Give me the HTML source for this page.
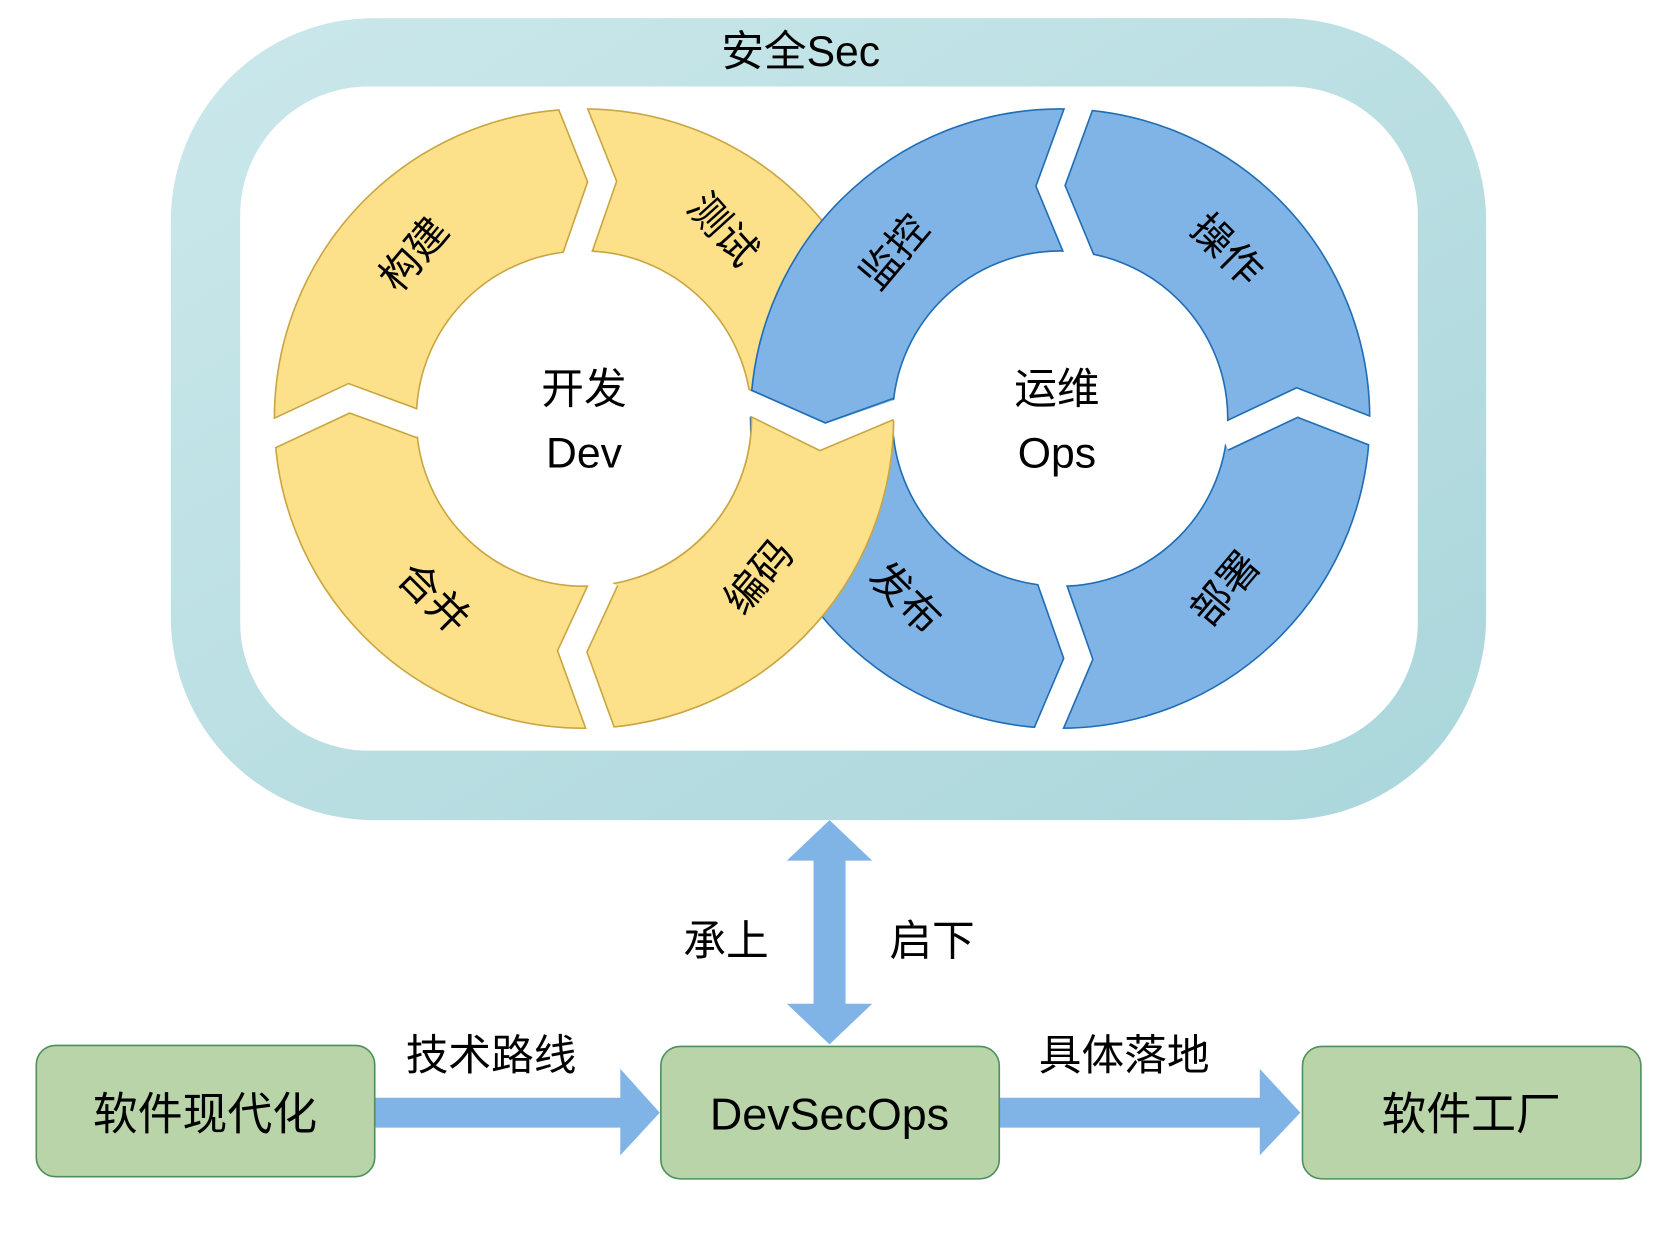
<!DOCTYPE html>
<html><head><meta charset="utf-8"><style>
html,body{margin:0;padding:0;background:#fff;width:1674px;height:1244px;overflow:hidden}
svg{display:block}
text{font-family:"Liberation Sans","Noto Sans CJK SC",sans-serif;fill:#000}
</style></head><body>
<svg width="1674" height="1244" viewBox="0 0 1568 1165" preserveAspectRatio="none" xmlns="http://www.w3.org/2000/svg">
<defs>
<linearGradient id="sec" x1="0" y1="0" x2="1" y2="1">
<stop offset="0" stop-color="#cbe8eb"/><stop offset="1" stop-color="#aad6db"/>
</linearGradient>
<clipPath id="cy"><path clip-rule="evenodd" d="M257,392a290,290 0 1,0 580,0a290,290 0 1,0 -580,0ZM390,392a157,157 0 1,0 314,0a157,157 0 1,0 -314,0Z"/></clipPath>
<clipPath id="cyw"><path clip-rule="evenodd" d="M254,392a293,293 0 1,0 586,0a293,293 0 1,0 -586,0ZM393,392a154,154 0 1,0 308,0a154,154 0 1,0 -308,0Z"/></clipPath>
<clipPath id="cb"><path clip-rule="evenodd" d="M703,392a290,290 0 1,0 580,0a290,290 0 1,0 -580,0ZM836,392a157,157 0 1,0 314,0a157,157 0 1,0 -314,0Z"/></clipPath>
<clipPath id="cbw"><path clip-rule="evenodd" d="M700,392a293,293 0 1,0 586,0a293,293 0 1,0 -586,0ZM839,392a154,154 0 1,0 308,0a154,154 0 1,0 -308,0Z"/></clipPath>
<clipPath id="cq"><polygon points="552,392 700,392 703,389 768,421 840,391 900,391 900,700 552,700"/></clipPath>
</defs>
<rect x="160" y="17" width="1232" height="751" rx="190" fill="url(#sec)"/>
<rect x="225" y="81" width="1103" height="622" rx="120" fill="#fff"/>
<text x="750" y="62" font-size="40" text-anchor="middle">安全Sec</text>

<path fill-rule="evenodd" d="M257,392a290,290 0 1,0 580,0a290,290 0 1,0 -580,0ZM390,392a157,157 0 1,0 314,0a157,157 0 1,0 -314,0Z" fill="#fde08a" stroke="#c9a641" stroke-width="1.5"/>
<path fill-rule="evenodd" d="M703,392a290,290 0 1,0 580,0a290,290 0 1,0 -580,0ZM836,392a157,157 0 1,0 314,0a157,157 0 1,0 -314,0Z" fill="#80b4e6" stroke="#1f6db5" stroke-width="1.5"/>
<g clip-path="url(#cq)">
<path fill-rule="evenodd" d="M257,392a290,290 0 1,0 580,0a290,290 0 1,0 -580,0ZM390,392a157,157 0 1,0 314,0a157,157 0 1,0 -314,0Z" fill="#fde08a" stroke="#c9a641" stroke-width="1.5"/>
</g>
<g clip-path="url(#cy)" fill="none" stroke="#c9a641" stroke-width="27">
<polyline points="534,95 564,170 539,242"/>
<polyline points="250,409 327,373 395,398"/>
<polyline points="567,543 536,610 565,690"/>
</g>
<g clip-path="url(#cyw)" fill="none" stroke="#fff" stroke-width="24">
<polyline points="534,95 564,170 539,242"/>
<polyline points="250,409 327,373 395,398"/>
<polyline points="567,543 536,610 565,690"/>
</g>
<g clip-path="url(#cb)" fill="none" stroke="#1f6db5" stroke-width="27">
<polyline points="1012,97 984,174 1013,244"/>
<polyline points="1145,410 1215,377 1290,406"/>
<polyline points="984,543 1010,617 979,690"/>
</g>
<g clip-path="url(#cbw)" fill="none" stroke="#fff" stroke-width="24">
<polyline points="1012,97 984,174 1013,244"/>
<polyline points="1145,410 1215,377 1290,406"/>
<polyline points="984,543 1010,617 979,690"/>
</g>
<polygon points="696,363 703,366 773,397 839,374 839,393 768,422 703,390 696,392" fill="#fff"/>
<polyline points="703,365 773,396 837,373" fill="none" stroke="#1f6db5" stroke-width="1.5"/>
<polyline points="703,390 768,422 837,393" fill="none" stroke="#c9a641" stroke-width="1.5"/>

<g font-size="38">
<text transform="translate(390,240) rotate(-50)" text-anchor="middle" dominant-baseline="middle">构建</text>
<text transform="translate(675,217) rotate(48)" text-anchor="middle" dominant-baseline="middle">测试</text>
<text transform="translate(404,562) rotate(45)" text-anchor="middle" dominant-baseline="middle">合并</text>
<text transform="translate(713,542) rotate(-50)" text-anchor="middle" dominant-baseline="middle">编码</text>
<text transform="translate(840,238) rotate(-50)" text-anchor="middle" dominant-baseline="middle">监控</text>
<text transform="translate(1147,236) rotate(45)" text-anchor="middle" dominant-baseline="middle">操作</text>
<text transform="translate(846,562) rotate(45)" text-anchor="middle" dominant-baseline="middle">发布</text>
<text transform="translate(1150,553) rotate(-50)" text-anchor="middle" dominant-baseline="middle">部署</text>
</g>
<g font-size="40" text-anchor="middle">
<text x="547" y="378">开发</text>
<text x="547" y="438">Dev</text>
<text x="990" y="378">运维</text>
<text x="990" y="438">Ops</text>
</g>

<polygon points="777,768 817,806 792,806 792,940 817,940 777,978 737,940 762,940 762,806 737,806" fill="#80b4e6"/>
<text x="680" y="895" font-size="40" text-anchor="middle">承上</text>
<text x="873" y="895" font-size="40" text-anchor="middle">启下</text>

<polygon points="351,1028 581,1028 581,1001 618,1042 581,1082 581,1056 351,1056" fill="#80b4e6"/>
<polygon points="936,1028 1180,1028 1180,1001 1218,1042 1180,1082 1180,1056 936,1056" fill="#80b4e6"/>
<text x="460" y="1002" font-size="40" text-anchor="middle">技术路线</text>
<text x="1053" y="1002" font-size="40" text-anchor="middle">具体落地</text>

<g fill="#b9d4a8" stroke="#4f8f5c" stroke-width="1.5">
<rect x="34" y="979" width="317" height="123" rx="18"/>
<rect x="619" y="980" width="317" height="124" rx="18"/>
<rect x="1220" y="980" width="317" height="124" rx="18"/>
</g>
<g font-size="42" text-anchor="middle">
<text x="192" y="1058">软件现代化</text>
<text x="777" y="1058">DevSecOps</text>
<text x="1378" y="1058">软件工厂</text>
</g>
</svg>
</body></html>
